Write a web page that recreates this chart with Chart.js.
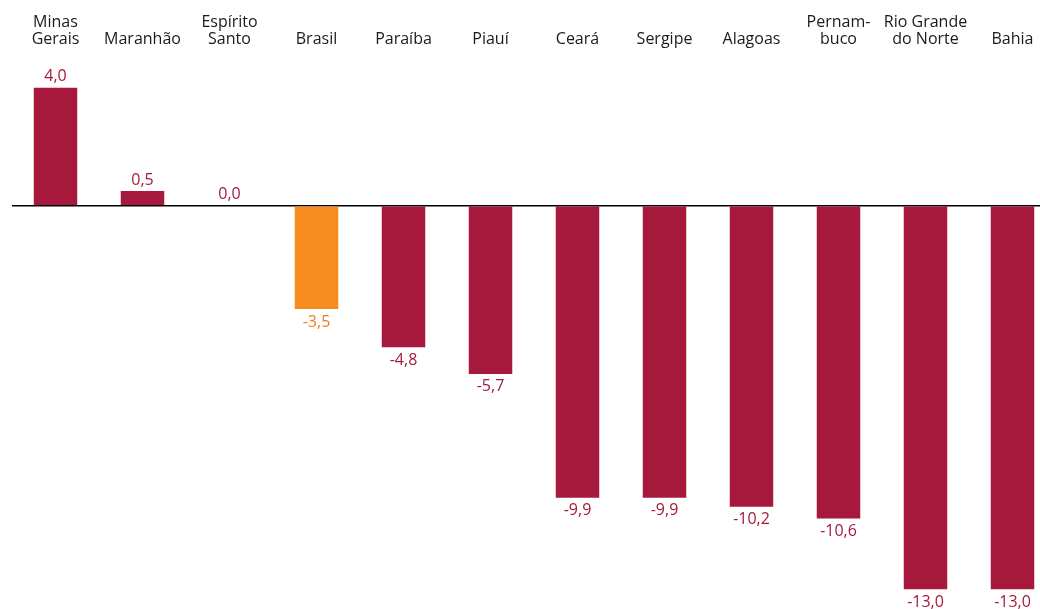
<!DOCTYPE html>
<html>
<head>
<meta charset="utf-8">
<script src="https://cdn.jsdelivr.net/npm/chart.js@4"></script>
<style>
  html, body { margin: 0; padding: 0; background: #fff; overflow: hidden; }
  #wrap { position: absolute; left: 0; top: -22px; width: 1060px; height: 631px; }
</style>
</head>
<body>
<div id="wrap"><canvas id="chart"></canvas></div>
<script>
const labels = [["Minas", "Gerais"], "Maranhão", ["Espírito", "Santo"], "Brasil", "Paraíba", "Piauí",
  "Ceará", "Sergipe", "Alagoas", ["Pernam-", "buco"], ["Rio Grande", "do Norte"], "Bahia"];
const values = [4.0, 0.5, 0.0, -3.5, -4.8, -5.7, -9.9, -9.9, -10.2, -10.6, -13.0, -13.0];
const highlight = "Brasil";

const RED = "#a6193c";
const ORANGE = "#f68b1f";
const colors = labels.map(l => l === highlight ? ORANGE : RED);
const textColors = labels.map(l => l === highlight ? "#f47b20" : RED);

const fmt = v => v.toFixed(1).replace(".", ",");

// rótulos de valor acima/abaixo das barras
const valueLabels = {
  id: "valueLabels",
  afterDatasetsDraw(chart) {
    const ctx = chart.ctx;
    const meta = chart.getDatasetMeta(0);
    ctx.save();
    ctx.font = "16px 'Open Sans'";
    ctx.textAlign = "center";
    meta.data.forEach((bar, i) => {
      const v = values[i];
      ctx.fillStyle = textColors[i];
      if (v >= 0) {
        ctx.textBaseline = "bottom";
        ctx.fillText(fmt(v), bar.x, bar.y - 3);
      } else {
        ctx.textBaseline = "top";
        ctx.fillText(fmt(v), bar.x, bar.y + 5);
      }
    });
    ctx.restore();
  }
};

new Chart(document.getElementById("chart"), {
  type: "bar",
  data: {
    labels: labels,
    datasets: [{
      data: values,
      backgroundColor: colors,
      barPercentage: 0.5,
      categoryPercentage: 1.0
    }]
  },
  options: {
    responsive: true,
    maintainAspectRatio: false,
    animation: false,
    layout: { padding: { left: 12, right: 4, top: 11, bottom: 5 } },
    plugins: { legend: { display: false }, tooltip: { enabled: false } },
    scales: {
      x: {
        position: "top",
        grid: { display: false, drawTicks: false },
        border: { display: false },
        ticks: {
          color: "#1a1a1a",
          font: { family: "'Open Sans'", size: 16, lineHeight: "17px" },
          padding: 25,
          maxRotation: 0,
          autoSkip: false
        }
      },
      y: {
        display: true,
        min: -13.5,
        max: 4.5,
        border: { display: false },
        ticks: { display: false },
        grid: {
          drawTicks: false,
          lineWidth: ctx => ctx.tick && ctx.tick.value === 0 ? 1.5 : 0,
          color: "#000"
        }
      }
    }
  },
  plugins: [valueLabels]
});
</script>
</body>
</html>
